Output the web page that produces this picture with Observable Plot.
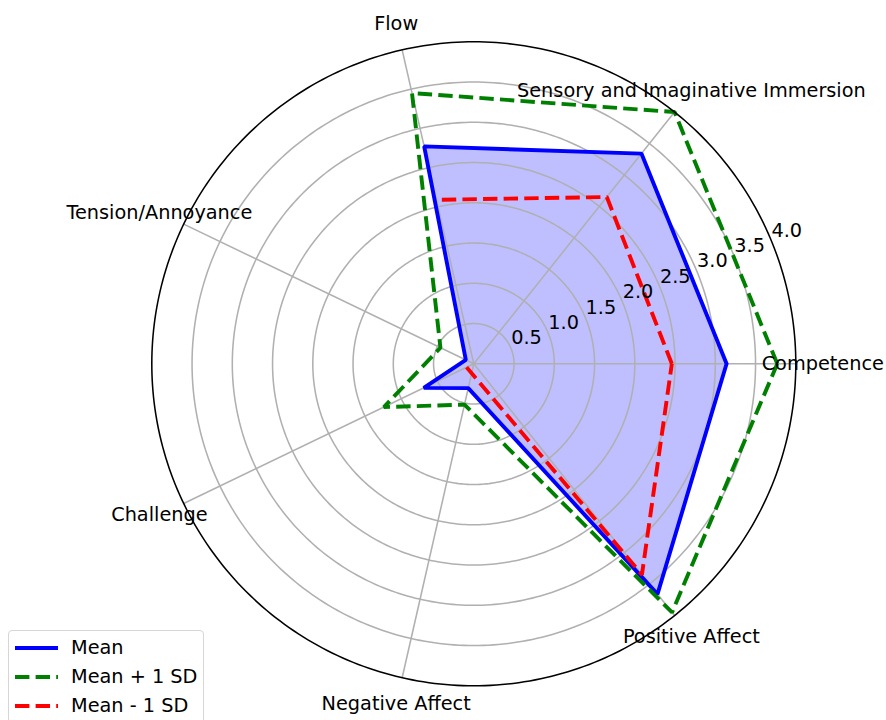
<!DOCTYPE html>
<html>
<head>
<meta charset="utf-8">
<script src="https://cdn.jsdelivr.net/npm/d3@7"></script>
<script src="https://cdn.jsdelivr.net/npm/@observablehq/plot@0.6"></script>
<style>
  html, body { margin: 0; padding: 0; background: #fff; overflow: hidden; }
  #wrap { position: relative; width: 886px; height: 720px; font-family: "DejaVu Sans", sans-serif; }
  #legend { position: absolute; left: 8px; top: 630px; width: 196px; height: 110px;
    border: 1px solid #d6d6d6; border-radius: 4px; background: rgba(255,255,255,0.8); box-sizing: border-box; }
  .item { position: absolute; left: 0; height: 24px; }
  .item svg { position: absolute; left: 5px; top: 0; }
  .item span { position: absolute; left: 62px; top: 0; font-size: 19.3px; line-height: 24px; color: #000; white-space: nowrap; }
</style>
</head>
<body>
<div id="wrap"></div>
<script>
// ---- data ----
const categories = ["Competence", "Sensory and Imaginative Immersion", "Flow", "Tension/Annoyance", "Challenge", "Negative Affect", "Positive Affect"];
const meanValues    = [3.14, 3.34, 2.77, 0.11, 0.69, 0.31, 3.66];
const plusSdValues  = [3.77, 4.00, 3.45, 0.46, 1.24, 0.52, 3.95];
const minusSdValues = [2.46, 2.65, 2.09, -0.24, 0.10, 0.12, 3.35];
const radialTicks = [0.5, 1.0, 1.5, 2.0, 2.5, 3.0, 3.5, 4.0];
const radialTickLabels = ["0.5", "1.0", "1.5", "2.0", "2.5", "3.0", "3.5", "4.0"];
const seriesNames = ["Mean", "Mean + 1 SD", "Mean - 1 SD"];
const seriesColors = ["#0000ff", "#008000", "#ff0000"];

const N = categories.length;
const angleOf = i => i * 2 * Math.PI / N;
const rMax = 4.0;

function polygon(values) {
  const rows = values.map((v, i) => {
    const r = (v == null || v < 0) ? NaN : v;
    return {cat: categories[i], r, x: r * Math.cos(angleOf(i)), y: r * Math.sin(angleOf(i))};
  });
  return rows.concat([rows[0]]);
}

const meanPts = polygon(meanValues);
const plusPts = polygon(plusSdValues);
const minusPts = polygon(minusSdValues);

// grid circles
const circleRows = [];
for (const t of radialTicks) {
  for (let k = 0; k <= 360; k++) {
    const a = k * Math.PI / 180;
    circleRows.push({t, x: t * Math.cos(a), y: t * Math.sin(a)});
  }
}
const spokes = categories.map((c, i) => ({x2: rMax * Math.cos(angleOf(i)), y2: rMax * Math.sin(angleOf(i))}));
const labelR = 4.335;
const catLabels = categories.map((c, i) => ({c, x: labelR * Math.cos(angleOf(i)), y: labelR * Math.sin(angleOf(i))}));
const rLabelAngle = 22.5 * Math.PI / 180;
const rLabels = radialTicks.map((t, i) => ({s: radialTickLabels[i], x: t * Math.cos(rLabelAngle), y: t * Math.sin(rLabelAngle)}));

const dash = "14.4,6.2";
const lw = 3.9;
const gridColor = "#b0b0b0";
const fs = 19.3;

const chart = Plot.plot({
  width: 886,
  height: 720,
  margin: 0,
  style: {fontFamily: "DejaVu Sans, sans-serif", fontSize: fs + "px", background: "transparent"},
  x: {domain: [-4, 4], range: [151.3, 795.3], axis: null},
  y: {domain: [-4, 4], range: [685.3, 41.3], axis: null},
  marks: [
    // fill
    Plot.line(meanPts, {x: "x", y: "y", fill: seriesColors[0], fillOpacity: 0.25, stroke: "none"}),
    // grid
    Plot.line(circleRows.filter(d => d.t < rMax), {x: "x", y: "y", z: "t", stroke: gridColor, strokeWidth: 1.55}),
    Plot.link(spokes, {x1: 0, y1: 0, x2: "x2", y2: "y2", stroke: gridColor, strokeWidth: 1.55}),
    // series lines
    Plot.line(meanPts, {x: "x", y: "y", stroke: seriesColors[0], strokeWidth: lw, strokeLinejoin: "miter"}),
    Plot.line(plusPts, {x: "x", y: "y", stroke: seriesColors[1], strokeWidth: lw, strokeDasharray: dash, strokeLinejoin: "miter", strokeLinecap: "butt"}),
    Plot.line(minusPts, {x: "x", y: "y", stroke: seriesColors[2], strokeWidth: lw, strokeDasharray: dash, strokeLinejoin: "miter", strokeLinecap: "butt"}),
    // outer spine
    Plot.line(circleRows.filter(d => d.t === rMax), {x: "x", y: "y", stroke: "#000", strokeWidth: 1.55}),
    // radial tick labels
    Plot.text(rLabels, {x: "x", y: "y", text: "s", dx: 15.5, dy: -10.2, textAnchor: "middle", fill: "#000", fontSize: fs}),
    // category labels
    Plot.text(catLabels, {x: "x", y: "y", text: "c", textAnchor: "middle", fill: "#000", fontSize: fs})
  ]
});

const wrap = document.getElementById("wrap");
wrap.appendChild(chart);

// legend
const legend = document.createElement("div");
legend.id = "legend";
const rowTops = [5, 34, 63];
seriesNames.forEach((name, i) => {
  const item = document.createElement("div");
  item.className = "item";
  item.style.top = rowTops[i] + "px";
  const dashAttr = i === 0 ? "" : `stroke-dasharray="${dash}"`;
  item.innerHTML = `<svg width="46" height="24"><line x1="1" x2="44" y1="12" y2="12" stroke="${seriesColors[i]}" stroke-width="${lw}" ${dashAttr}/></svg><span>${name}</span>`;
  legend.appendChild(item);
});
wrap.appendChild(legend);
</script>
</body>
</html>
